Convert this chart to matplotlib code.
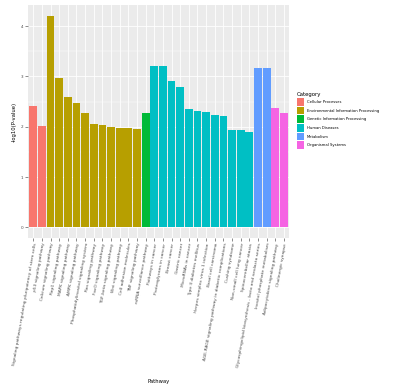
import matplotlib.pyplot as plt
import numpy as np
from matplotlib.patches import Patch

categories = ["Cellular Processes", "Environmental Information Processing",
              "Genetic Information Processing", "Human Diseases",
              "Metabolism", "Organismal Systems"]
colors = ["#F8766D", "#B79F00", "#00BA38", "#00BFC4", "#619CFF", "#F564E3"]

pathways = [
    "Signaling pathways regulating pluripotency of stem cells",
    "p53 signaling pathway",
    "Calcium signaling pathway",
    "Rap1 signaling pathway",
    "MAPK signaling pathway",
    "AMPK signaling pathway",
    "Phosphatidylinositol signaling system",
    "Ras signaling pathway",
    "FoxO signaling pathway",
    "TGF-beta signaling pathway",
    "Wnt signaling pathway",
    "Cell adhesion molecules",
    "TNF signaling pathway",
    "mRNA surveillance pathway",
    "Pathways in cancer",
    "Proteoglycans in cancer",
    "Breast cancer",
    "Gastric cancer",
    "MicroRNAs in cancer",
    "Type II diabetes mellitus",
    "Herpes simplex virus 1 infection",
    "Basal cell carcinoma",
    "AGE-RAGE signaling pathway in diabetic complications",
    "Cushing syndrome",
    "Non-small cell lung cancer",
    "Spinocerebellar ataxia",
    "Glycosphingolipid biosynthesis - lacto and neolacto series",
    "Inositol phosphate metabolism",
    "Adipocytokine signaling pathway",
    "Cholinergic synapse",
]
pathway_cat = [0, 0] + [1] * 11 + [2] + [3] * 12 + [4] * 2 + [5] * 2
values = [2.42, 2.01,
          4.21, 2.97, 2.59, 2.48, 2.27, 2.05, 2.03, 1.99, 1.97, 1.97, 1.95,
          2.27,
          3.20, 3.20, 2.92, 2.79, 2.35, 2.31, 2.30, 2.24, 2.22, 1.93, 1.93, 1.90,
          3.16, 3.16,
          2.38, 2.27]

fig = plt.figure(figsize=(3.95, 3.90), dpi=100)
ax = fig.add_axes([0.071, 0.390, 0.661, 0.597])
ax.set_facecolor("#EBEBEB")
for s in ax.spines.values():
    s.set_visible(False)

x = np.arange(1, len(values) + 1)
ax.bar(x, values, width=0.9, color=[colors[c] for c in pathway_cat], zorder=3)

ymax = max(values)
ax.set_ylim(-0.05 * ymax, ymax * 1.05)
ax.set_xlim(0.4, len(values) + 0.6)
ax.set_yticks([0, 1, 2, 3, 4])
ax.set_yticks([0.5, 1.5, 2.5, 3.5], minor=True)
ax.set_xticks(x)
ax.set_xticklabels(pathways, rotation=80, ha="right", rotation_mode="anchor",
                   fontsize=3.15, color="#4D4D4D")
ax.tick_params(axis="y", labelsize=3.0, labelcolor="#4D4D4D", length=2,
               width=0.4, color="#333333", pad=1.5)
ax.tick_params(axis="x", length=2, width=0.4, color="#333333", pad=1.5)
ax.tick_params(which="minor", length=0)
ax.grid(True, which="major", color="white", linewidth=0.6, zorder=0)
ax.grid(True, which="minor", axis="y", color="white", linewidth=0.3, zorder=0)
ax.set_axisbelow(True)

ax.set_xlabel("Pathway", fontsize=3.8, labelpad=3)
ax.xaxis.set_label_coords(0.5, -0.605)
ax.set_ylabel("-log10(P-value)", fontsize=3.8, labelpad=3)

handles = [Patch(facecolor=c, edgecolor="none") for c in colors]
leg = fig.legend(handles, categories, loc="upper left",
                 bbox_to_anchor=(0.745, 0.77), frameon=False,
                 fontsize=2.7, title="Category", title_fontsize=3.9,
                 handlelength=1.9, handleheight=2.8, handletextpad=0.9,
                 labelspacing=0.25, borderaxespad=0.2)
leg._legend_box.align = "left"

fig.savefig("out.png", dpi=100)
